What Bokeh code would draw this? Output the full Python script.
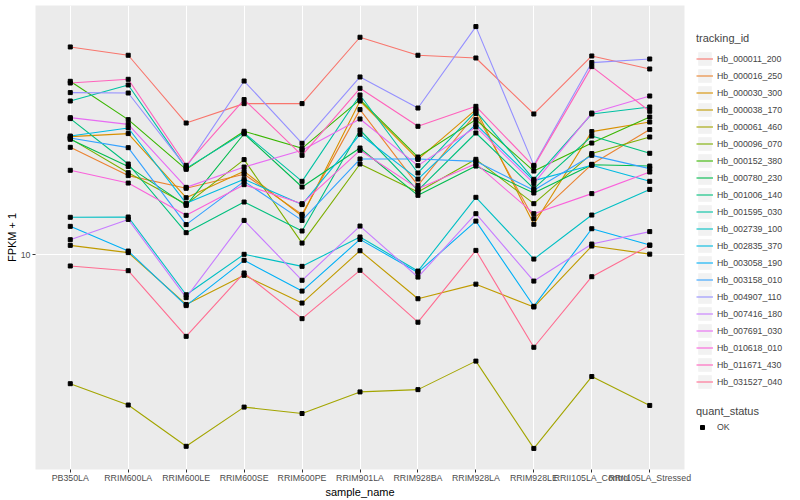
import math
from bokeh.plotting import figure
from bokeh.layouts import row
from bokeh.models import (Range1d, FactorRange, FixedTicker,
                          PrintfTickFormatter, Legend, LegendItem)
from bokeh.embed import file_html
from bokeh.resources import INLINE

samples = ["PB350LA", "RRIM600LA", "RRIM600LE", "RRIM600SE", "RRIM600PE",
           "RRIM901LA", "RRIM928BA", "RRIM928LA", "RRIM928LE",
           "RRII105LA_Control", "RRII105LA_Stressed"]

tracking_ids = ["Hb_000011_200", "Hb_000016_250", "Hb_000030_300", "Hb_000038_170",
                "Hb_000061_460", "Hb_000096_070", "Hb_000152_380", "Hb_000780_230",
                "Hb_001006_140", "Hb_001595_030", "Hb_002739_100", "Hb_002835_370",
                "Hb_003058_190", "Hb_003158_010", "Hb_004907_110", "Hb_007416_180",
                "Hb_007691_030", "Hb_010618_010", "Hb_011671_430", "Hb_031527_040"]

colors = ["#F8766D", "#EA8331", "#D89000", "#C09B00", "#A3A500", "#7CAE00", "#39B600",
          "#00BB4E", "#00BF7D", "#00C1A3", "#00BFC4", "#00BAE0", "#00B0F6", "#35A2FF",
          "#9590FF", "#C77CFF", "#E76BF3", "#FA62DB", "#FF62BC", "#FF6C91"]

# FPKM + 1 values, one list per tracking_id, in sample order
Hb_000011_200 = [33.04, 31.50, 21.33, 23.85, 23.85, 34.94, 31.50, 31.01, 22.47, 31.37, 29.11]
Hb_000016_250 = [18.55, 15.76, 14.65, 15.88, 12.61, 23.04, 14.90, 22.52, 12.30, 16.82, 20.54]
Hb_000030_300 = [19.72, 20.07, 13.88, 16.15, 12.49, 24.21, 17.31, 23.04, 11.91, 20.30, 21.45]
Hb_000038_170 = [10.55, 10.12, 7.51, 8.88, 7.57, 10.23, 7.76, 8.44, 7.40, 10.51, 10.03]
Hb_000061_460 = [4.76, 4.21, 3.32, 4.16, 4.01, 4.54, 4.60, 5.42, 3.28, 4.96, 4.20]
Hb_000096_070 = [19.50, 16.03, 13.36, 17.28, 10.69, 16.85, 14.34, 17.31, 13.41, 17.89, 19.68]
Hb_000152_380 = [27.12, 21.75, 16.34, 20.34, 18.44, 24.41, 17.54, 21.75, 16.18, 19.01, 22.08]
Hb_000780_230 = [19.42, 16.62, 13.28, 20.05, 14.76, 18.47, 14.07, 16.65, 14.26, 16.77, 16.65]
Hb_001006_140 = [21.88, 16.85, 11.35, 13.54, 11.46, 20.49, 14.48, 20.14, 14.62, 19.79, 17.92]
Hb_001595_030 = [24.21, 26.55, 16.43, 20.16, 15.25, 25.06, 16.00, 22.82, 15.43, 22.47, 23.39]
Hb_002739_100 = [12.40, 12.42, 7.94, 10.02, 9.35, 11.07, 9.10, 13.91, 9.75, 12.56, 14.56]
Hb_002835_370 = [19.79, 20.73, 13.44, 15.43, 13.34, 19.99, 15.45, 21.17, 15.31, 16.72, 15.25]
Hb_003058_190 = [11.77, 10.21, 7.46, 9.68, 8.11, 10.92, 9.03, 12.13, 7.43, 11.61, 10.57]
Hb_003158_010 = [19.57, 18.51, 11.89, 15.25, 12.18, 17.34, 17.34, 17.11, 14.48, 17.71, 16.41]
Hb_004907_110 = [25.41, 25.35, 16.53, 27.16, 18.98, 27.80, 23.25, 37.15, 16.72, 30.20, 30.83]
Hb_007416_180 = [10.90, 12.25, 7.81, 12.18, 8.63, 11.79, 8.79, 12.66, 8.59, 10.63, 11.42]
Hb_007691_030 = [22.00, 21.17, 14.73, 16.56, 18.23, 21.83, 16.69, 20.85, 15.07, 22.59, 24.92]
Hb_010618_010 = [16.25, 15.10, 12.54, 14.96, 13.41, 18.23, 14.62, 16.88, 12.66, 14.21, 16.09]
Hb_011671_430 = [26.85, 27.43, 16.72, 24.41, 17.71, 26.05, 20.93, 23.48, 16.62, 29.51, 22.82]
Hb_031527_040 = [9.37, 9.12, 6.25, 9.00, 6.92, 9.14, 6.78, 10.25, 5.87, 8.81, 10.55]

series = [Hb_000011_200, Hb_000016_250, Hb_000030_300, Hb_000038_170, Hb_000061_460,
          Hb_000096_070, Hb_000152_380, Hb_000780_230, Hb_001006_140, Hb_001595_030,
          Hb_002739_100, Hb_002835_370, Hb_003058_190, Hb_003158_010, Hb_004907_110,
          Hb_007416_180, Hb_007691_030, Hb_010618_010, Hb_011671_430, Hb_031527_040]

quant_status = "OK"
y_ticks = [1, 10, 100]

FONT = "Liberation Sans"

allv = [v for s in series for v in s]
lo, hi = math.log10(min(allv)), math.log10(max(allv))
pad = (hi - lo) * 0.05
y_range = Range1d(10 ** (lo - pad), 10 ** (hi + pad))
x_range = FactorRange(factors=samples, range_padding=0.1, range_padding_units="absolute")

p = figure(frame_width=649, frame_height=464, x_range=x_range, y_range=y_range,
           y_axis_type="log", output_backend="svg", toolbar_location=None,
           min_border_left=35, min_border_right=12, min_border_top=5,
           min_border_bottom=0)

p.background_fill_color = "#EBEBEB"
p.border_fill_color = "white"
p.outline_line_color = None

for g in (p.xgrid, p.ygrid):
    g.grid_line_color = "white"
    g.grid_line_width = 1.1
p.ygrid.minor_grid_line_color = None

for ax in (p.xaxis, p.yaxis):
    ax.axis_line_color = None
    ax.major_tick_line_color = "#333333"
    ax.major_tick_out = 3
    ax.major_tick_in = 0
    ax.minor_tick_line_color = None
    ax.major_label_text_font = FONT
    ax.major_label_text_font_size = "8.8px"
    ax.major_label_text_color = "#4D4D4D"
    ax.axis_label_text_font = FONT
    ax.axis_label_text_font_size = "11px"
    ax.axis_label_text_font_style = "normal"
    ax.axis_label_text_color = "black"
    ax.axis_label_standoff = 0
p.xaxis.major_label_standoff = 0
p.yaxis.major_label_standoff = 2

p.xaxis.axis_label = "sample_name"
p.yaxis.axis_label = "FPKM + 1"
p.yaxis.ticker = FixedTicker(ticks=y_ticks)
p.yaxis.formatter = PrintfTickFormatter(format="%d")

px, py = [], []
for name, col, vals in zip(tracking_ids, colors, series):
    p.line(x=samples, y=vals, line_color=col, line_width=1.1)
    px.extend(samples)
    py.extend(vals)
p.scatter(x=px, y=py, marker="square", size=4, color="black")

# legend panel (keys only; helper glyphs draw nothing inside the panel)
lg = figure(width=104, height=498, x_range=Range1d(0, 1), y_range=Range1d(0, 1),
            output_backend="svg", toolbar_location=None,
            x_axis_location=None, y_axis_location=None,
            min_border_left=0, min_border_right=0, min_border_top=0, min_border_bottom=0)
lg.outline_line_color = None
lg.xgrid.visible = False
lg.ygrid.visible = False
lg.background_fill_color = "white"

key_bg = lg.quad(left=[0], right=[0], top=[0], bottom=[0], fill_color="#F2F2F2", line_color=None)
items = []
for name, col in zip(tracking_ids, colors):
    r = lg.line(x=[0], y=[0], line_color=col, line_width=1.1)
    items.append(LegendItem(label=name, renderers=[key_bg, r]))
ok_r = lg.scatter(x=[-1], y=[-1], marker="square", size=4, color="black")

common = dict(orientation="vertical", margin=0, padding=0, spacing=0,
              label_height=17, label_text_font=FONT, label_text_font_size="8.8px",
              title_text_font=FONT, title_text_font_size="11px",
              title_text_font_style="normal",
              background_fill_alpha=0, border_line_alpha=0)
leg1 = Legend(items=items, title="tracking_id", location=(0, 77),
              glyph_width=17, glyph_height=17, label_standoff=4, title_standoff=6,
              **common)
leg2 = Legend(items=[LegendItem(label=quant_status, renderers=[ok_r])],
              title="quant_status", location=(0, 31.5),
              glyph_width=12, glyph_height=10, label_standoff=9, title_standoff=2,
              **common)
lg.add_layout(leg1, "center")
lg.add_layout(leg2, "center")

layout = row(p, lg)
open("out.html", "w").write(file_html(layout, INLINE))
